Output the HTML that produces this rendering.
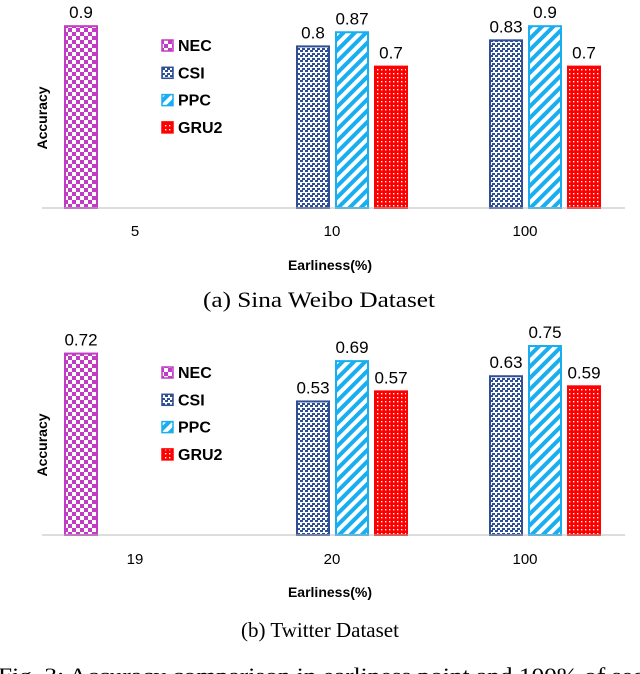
<!DOCTYPE html>
<html><head><meta charset="utf-8">
<style>
html,body{margin:0;padding:0;background:#fff;width:640px;height:674px;overflow:hidden}
svg{display:block}
.ax{font-family:"Liberation Sans",sans-serif;font-size:14px;fill:#000}
.b{font-weight:bold}
.cap{font-family:"Liberation Serif",serif;font-size:21px;fill:#000}
</style></head>
<body>
<svg id="fig" width="640" height="674" xmlns="http://www.w3.org/2000/svg">
<defs>
<pattern id="pNEC" width="8" height="8" patternUnits="userSpaceOnUse"><rect width="8" height="8" fill="#fff"/><rect width="4" height="4" fill="#c13bc4"/><rect x="4" y="4" width="4" height="4" fill="#c13bc4"/></pattern>
<pattern id="pCSI" width="5" height="5" patternUnits="userSpaceOnUse"><rect width="5" height="5" fill="#fff"/><rect width="3" height="2" fill="#2e4e96"/><rect x="2" y="3" width="3" height="2" fill="#2e4e96"/></pattern>
<pattern id="pPPC" width="8" height="8" patternUnits="userSpaceOnUse" patternTransform="rotate(45)"><rect width="8" height="8" fill="#fff"/><rect width="4" height="8" fill="#18aef0"/></pattern>
<pattern id="pGRU" width="4" height="4" patternUnits="userSpaceOnUse"><rect width="4" height="4" fill="#f00"/><rect x="1" y="1" width="1.4" height="1.4" fill="#fff"/></pattern>
</defs>
<text class="cap" x="203" y="307" textLength="232" lengthAdjust="spacingAndGlyphs" style="font-size:22px">(a) Sina Weibo Dataset</text>
<text class="cap" x="320" y="637" text-anchor="middle">(b) Twitter Dataset</text>
<text class="cap" x="-2" y="683" textLength="660" lengthAdjust="spacingAndGlyphs" style="font-size:22px">Fig. 3: Accuracy comparison in earliness point and 100% of sequ</text>
</svg>
<script>
const series = ["NEC","CSI","PPC","GRU2"];
const catsA = ["5","10","100"];
const valsA = [[0.9,null,null,null],[null,0.8,0.87,0.7],[null,0.83,0.9,0.7]];
const catsB = ["19","20","100"];
const valsB = [[0.72,null,null,null],[null,0.53,0.69,0.57],[null,0.63,0.75,0.59]];
const fills = ["url(#pNEC)","url(#pCSI)","url(#pPPC)","url(#pGRU)"];
const strokes = ["#c13bc4","#2e4e96","#18aef0","#f00"];
const NS="http://www.w3.org/2000/svg";
const svg=document.getElementById('fig');
function mk(tag,attrs,parent){const e=document.createElementNS(NS,tag);for(const k in attrs)e.setAttribute(k,attrs[k]);(parent||svg).appendChild(e);return e;}
const groupX=[65,297,490];
function chart(id,cats,vals,base,pxPerUnit,legendY,catY,titleY){
  const g=mk('g',{});
  
  
  const y=v=>base-v*pxPerUnit;
  cats.forEach((c,ci)=>{
    vals[ci].forEach((v,si)=>{
      if(v===null)return;
      const x=groupX[ci]+(ci===0?0:(si-1)*39);
      const r=mk('rect',{x:x,y:y(v),width:32,height:base-y(v),fill:fills[si],stroke:strokes[si],'stroke-width':2},g);
      
      
      const t=mk('text',{x:x+16,y:y(v)-8,'text-anchor':'middle',class:'ax',style:'font-size:17px'},g);
      t.textContent=v;
      
      
    });
    const cx=ci===0?135:groupX[ci]-39+16+58;
    const ct=mk('text',{x:cx,y:catY,'text-anchor':'middle',class:'ax',style:'font-size:15px'},g);
    ct.textContent=c;
    
    
  });
  const ax=mk('line',{x1:42,x2:625,y1:base,y2:base,stroke:'#bbb','stroke-width':1},g);
  
  
  const xt=mk('text',{x:330,y:titleY,'text-anchor':'middle',class:'ax b'},g);
  xt.textContent='Earliness(%)';
  
  
  const yt=mk('text',{x:0,y:0,'text-anchor':'middle',class:'ax b',transform:`translate(47,${base-90}) rotate(-90)`},g);
  yt.textContent='Accuracy';
  
  
  series.forEach((s,i)=>{
    const ly=legendY+i*27.3;
    const sw=mk('rect',{x:162,y:ly-11,width:11,height:11,fill:fills[i],stroke:strokes[i],'stroke-width':1.5},g);
    
    
    const lt=mk('text',{x:178,y:ly,class:'ax b',style:'font-size:16px'},g);
    lt.textContent=s;
    
    
  });
}
chart('weibo',catsA,valsA,208,202,51,236,270);
chart('twitter',catsB,valsB,535,252,378,564,597);
</script>
</body></html>
